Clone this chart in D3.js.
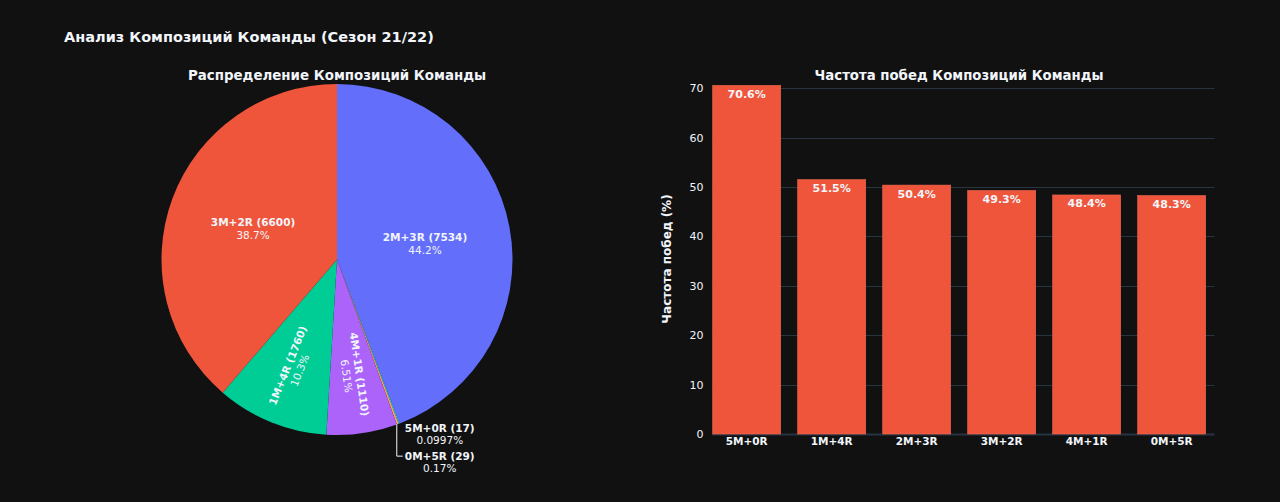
<!DOCTYPE html>
<html>
<head>
<meta charset="utf-8">
<script src="https://cdn.jsdelivr.net/npm/d3@7"></script>
<style>
  html, body { margin: 0; padding: 0; background: #111111; }
  svg { display: block; }
  text { font-family: "DejaVu Sans", Verdana, sans-serif; fill: #f2f5fa; }
</style>
</head>
<body>
<svg id="chart" width="1280" height="502"></svg>
<script>
// ---- Data ----
const mainTitle = "Анализ Композиций Команды (Сезон 21/22)";
const pieTitle = "Распределение Композиций Команды";
const barTitle = "Частота побед Композиций Команды";
const barYTitle = "Частота побед (%)";

const pieLabels = ["2M+3R", "5M+0R", "0M+5R", "4M+1R", "1M+4R", "3M+2R"];
const pieCounts = [7534, 17, 29, 1110, 1760, 6600];
const pieColors = ["#636efa", "#19d3f3", "#FFA15A", "#ab63fa", "#00cc96", "#EF553B"];

const barLabels = ["5M+0R", "1M+4R", "2M+3R", "3M+2R", "4M+1R", "0M+5R"];
const winRates = [70.59, 51.5, 50.4, 49.3, 48.4, 48.28];
const yTicks = [0, 10, 20, 30, 40, 50, 60, 70];

// ---- Setup ----
const svg = d3.select("#chart");
const W = 1280, H = 502;
svg.append("rect").attr("width", W).attr("height", H).attr("fill", "#111111");

svg.append("text").attr("x", 64).attr("y", 42)
  .attr("font-size", 14.5).attr("font-weight", "bold")
  .text(mainTitle);

// ---- Pie ----
const cx = 337, cy = 259.5, R = 175.5;
svg.append("text").attr("x", cx).attr("y", 80).attr("text-anchor", "middle")
  .attr("font-size", 13.4).attr("font-weight", "bold").text(pieTitle);

const total = d3.sum(pieCounts);
const pctFmt = v => d3.format(".3~r")(v) + "%";
const pieData = pieLabels.map((l, i) => ({ label: l, value: pieCounts[i], color: pieColors[i] }));
const pie = d3.pie().sort(null).value(d => d.value).startAngle(0).endAngle(2 * Math.PI);
const arcs = pie(pieData);
const arc = d3.arc().innerRadius(0).outerRadius(R);

const gPie = svg.append("g").attr("transform", `translate(${cx},${cy})`);
gPie.selectAll("path").data(arcs).join("path")
  .attr("d", arc).attr("fill", d => d.data.color);

const fs = 10.5;
arcs.forEach(a => {
  const span = a.endAngle - a.startAngle;
  const mid = (a.startAngle + a.endAngle) / 2;
  const pct = a.data.value / total * 100;
  const l1 = `${a.data.label} (${a.data.value})`;
  const l2 = pctFmt(pct);
  if (span > 1.2) {
    const r = 0.51 * R;
    const x = r * Math.sin(mid), y = -r * Math.cos(mid);
    const t = gPie.append("text").attr("text-anchor", "middle").attr("font-size", fs);
    t.append("tspan").attr("x", x).attr("y", y - 2).attr("font-weight", "bold").text(l1);
    t.append("tspan").attr("x", x).attr("y", y + 11).text(l2);
  } else if (span > 0.2) {
    const r = 0.665 * R;
    const x = r * Math.sin(mid), y = -r * Math.cos(mid);
    let deg = (mid * 180 / Math.PI) - 90;
    if (deg > 90) deg -= 180;
    const g = gPie.append("g").attr("transform", `translate(${x},${y}) rotate(${deg})`);
    const t = g.append("text").attr("text-anchor", "middle").attr("font-size", fs);
    t.append("tspan").attr("x", 0).attr("y", -2).attr("font-weight", "bold").text(l1);
    t.append("tspan").attr("x", 0).attr("y", 11).text(l2);
  }
});

// outside labels for tiny slices
const tiny = arcs.filter(a => (a.endAngle - a.startAngle) <= 0.2);
const edgeA = tiny[tiny.length - 1];
const em = (edgeA.startAngle + edgeA.endAngle) / 2;
const ex = R * Math.sin(em), ey = -R * Math.cos(em);
const lblX = ex + 42;
tiny.forEach((a, i) => {
  const pct = a.data.value / total * 100;
  const y0 = ey + 8 + i * 28;
  const t = gPie.append("text").attr("text-anchor", "middle").attr("font-size", fs);
  t.append("tspan").attr("x", lblX).attr("y", y0).attr("font-weight", "bold").text(`${a.data.label} (${a.data.value})`);
  t.append("tspan").attr("x", lblX).attr("y", y0 + 12).text(pctFmt(pct));
  if (i > 0) {
    gPie.append("path")
      .attr("d", `M${ex - 1},${ey} L${ex - 1},${y0 - 4} L${ex + 5},${y0 - 4}`)
      .attr("fill", "none").attr("stroke", "#f2f5fa").attr("stroke-width", 1);
  }
});

// ---- Bar chart ----
const bx0 = 712, bx1 = 1214.5, by0 = 434;
const x = d3.scaleBand().domain(barLabels).range([704.2, 1214.2]).paddingInner(0.2).paddingOuter(0.1);
const y = d3.scaleLinear().domain([0, 70]).range([by0, 88.3]);

svg.append("text").attr("x", 959).attr("y", 80).attr("text-anchor", "middle")
  .attr("font-size", 13.3).attr("font-weight", "bold").text(barTitle);

const gGrid = svg.append("g");
gGrid.selectAll("line").data(yTicks).join("line")
  .attr("x1", bx0).attr("x2", bx1)
  .attr("y1", d => Math.round(y(d)) + 0.5).attr("y2", d => Math.round(y(d)) + 0.5)
  .attr("stroke", "#283442").attr("stroke-width", d => d === 0 ? 2 : 1);

const yAxis = d3.axisLeft(y).tickValues(yTicks).tickSize(0).tickPadding(0);
const gy = svg.append("g").attr("transform", `translate(703.5,0)`).call(yAxis);
gy.select(".domain").remove();
gy.selectAll("text").attr("font-size", 11).attr("fill", "#f2f5fa")
  .style("font-family", "DejaVu Sans, Verdana, sans-serif");

const xAxis = d3.axisBottom(x).tickSize(0).tickPadding(0);
const gx = svg.append("g").attr("transform", `translate(0,${by0 + 4})`).call(xAxis);
gx.select(".domain").remove();
gx.selectAll("text").attr("font-size", 10.5).attr("font-weight", "bold").attr("fill", "#f2f5fa")
  .style("font-family", "DejaVu Sans, Verdana, sans-serif");

svg.append("g").selectAll("rect").data(barLabels).join("rect")
  .attr("x", d => x(d)).attr("width", x.bandwidth())
  .attr("y", (d, i) => y(winRates[i])).attr("height", (d, i) => by0 - y(winRates[i]))
  .attr("fill", "#EF553B").attr("stroke", "#f26a52").attr("stroke-width", 0.6);

svg.append("g").selectAll("text").data(barLabels).join("text")
  .attr("x", d => x(d) + x.bandwidth() / 2)
  .attr("y", (d, i) => y(winRates[i]) + 12.5)
  .attr("text-anchor", "middle").attr("font-size", 11).attr("font-weight", "bold")
  .text((d, i) => d3.format(".1f")(winRates[i]) + "%");

svg.append("text")
  .attr("transform", `translate(671,259) rotate(-90)`)
  .attr("text-anchor", "middle").attr("font-size", 12).attr("font-weight", "bold")
  .text(barYTitle);
</script>
</body>
</html>
